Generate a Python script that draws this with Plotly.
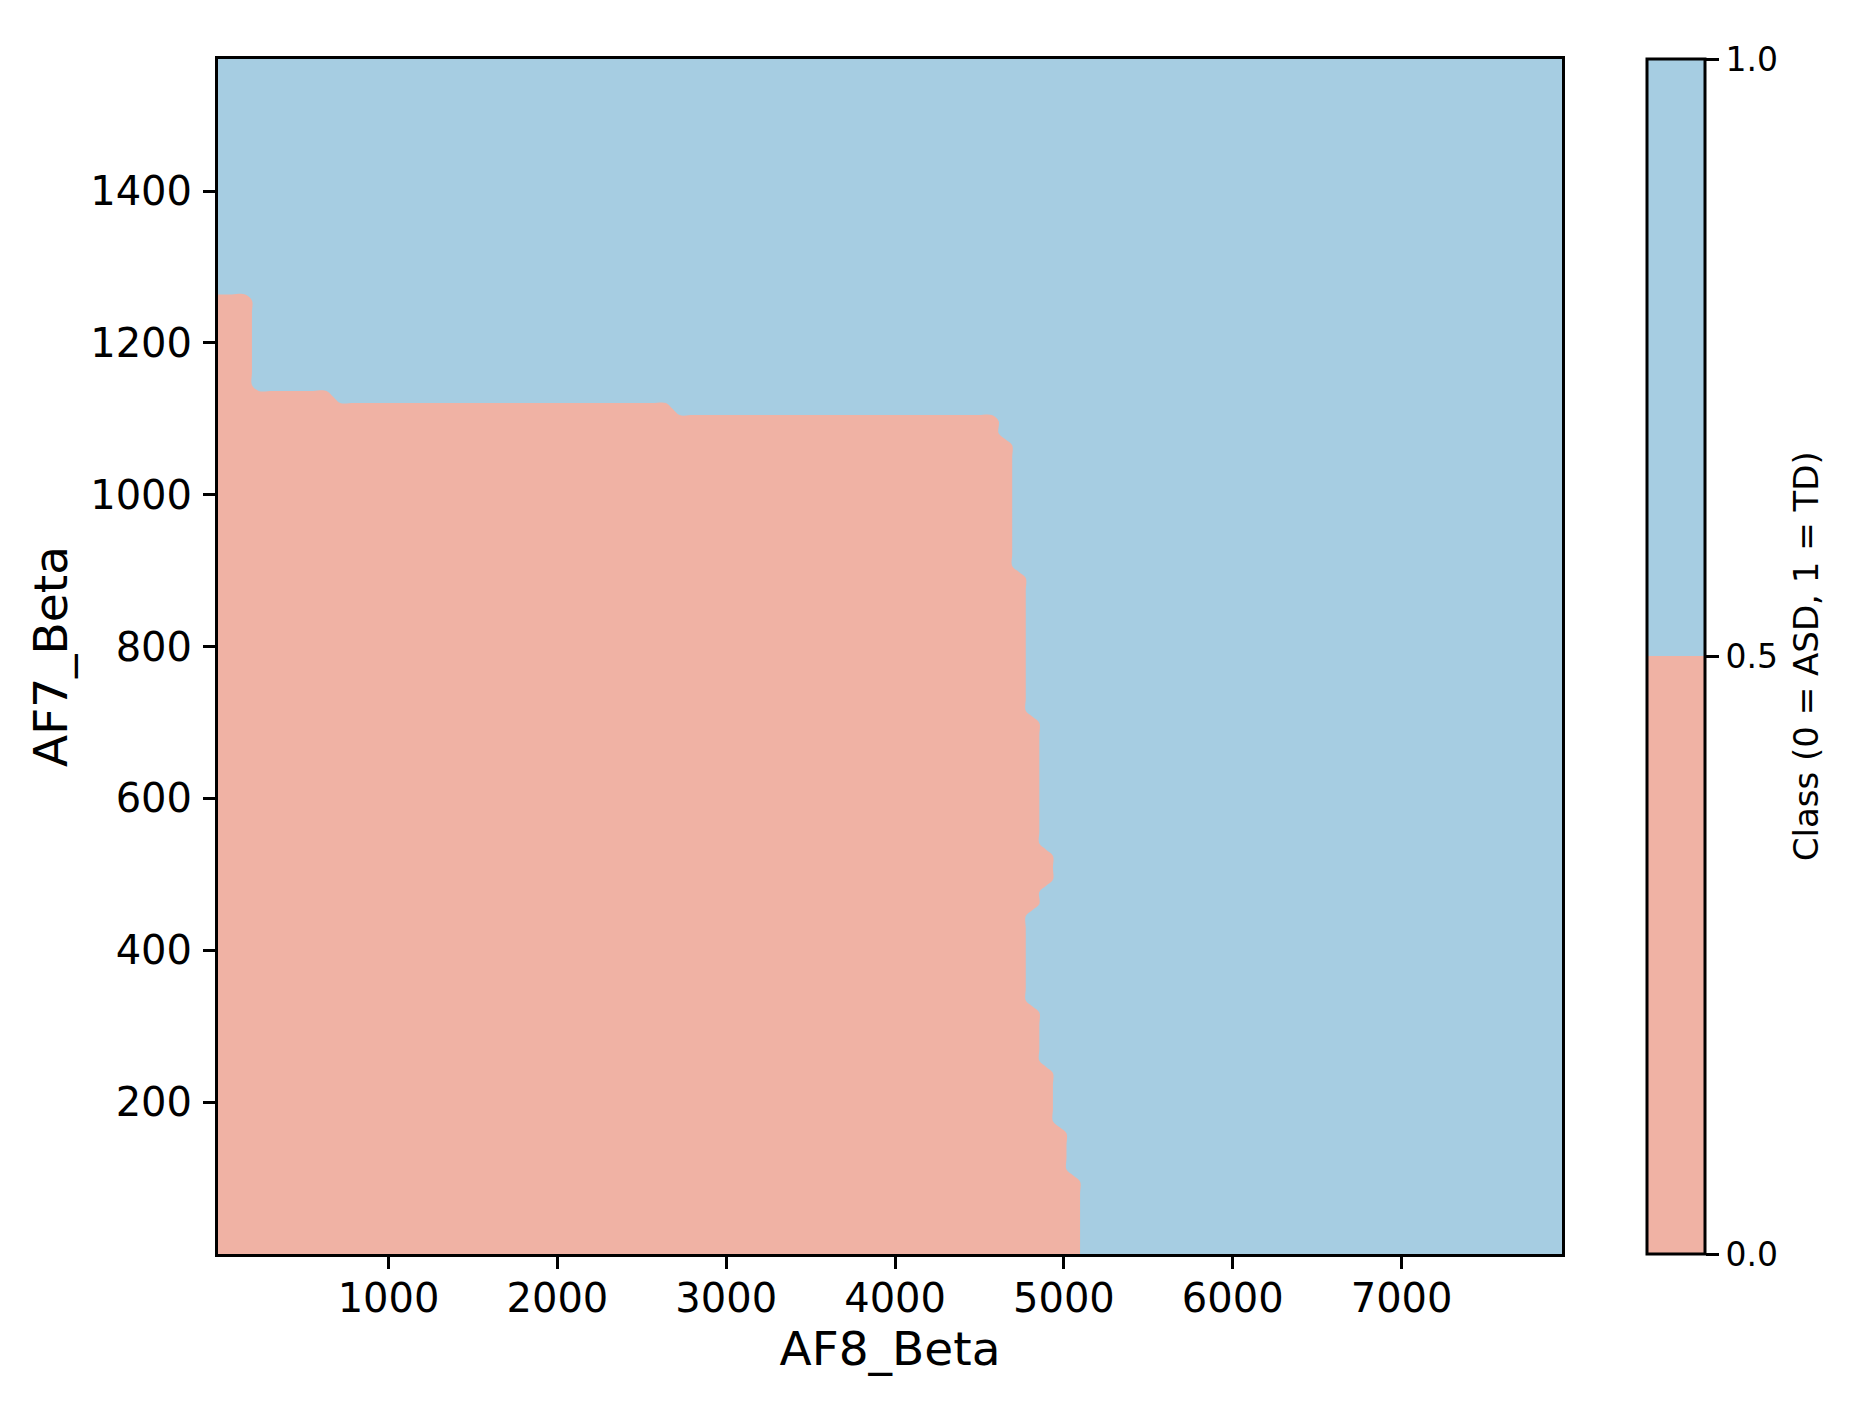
import numpy as np
import plotly.graph_objects as go

# ---------------- data ----------------
# evaluation grid extent (data units) and resolution
af8_range = [-10, 7950]
af7_range = [0, 1574]
n_grid = 100

# decision boundary:
# for each AF7_Beta band (upper edge), AF8_Beta value below which the class is 0 (ASD)
band_upper_af7 = [102.5, 166.6, 246.3, 326.4, 452.4, 484.3, 533.0, 708.0,
                  898.7, 1072.5, 1105.0, 1121.0, 1137.0, 1264.0]
band_thr_af8 = [5094, 5015, 4932, 4853, 4772, 4853, 4932, 4853,
                4772, 4693, 4613, 2683, 673, 191]

x_ticks = [1000, 2000, 3000, 4000, 5000, 6000, 7000]
y_ticks = [200, 400, 600, 800, 1000, 1200, 1400]
cbar_ticks = [0.0, 0.5, 1.0]
cbar_labels = ["0.0", "0.5", "1.0"]

salmon = "#f0b2a4"
blue = "#a6cde2"

# ---------------- build class grid ----------------
xs = np.linspace(af8_range[0], af8_range[1], n_grid)
ys = np.linspace(af7_range[0], af7_range[1], n_grid)
z = np.ones((n_grid, n_grid))
for i, yv in enumerate(ys):
    k = int(np.searchsorted(band_upper_af7, yv))
    if k < len(band_thr_af8):
        z[i, xs < band_thr_af8[k]] = 0

cscale = [[0, salmon], [0.5, salmon], [0.5, blue], [1, blue]]
FONT = "DejaVu Sans"

fig = go.Figure()
fig.add_trace(go.Contour(
    x=xs, y=ys, z=z,
    colorscale=cscale, zmin=0, zmax=1,
    autocontour=False,
    contours=dict(start=0.5, end=0.5, size=0.5, coloring="fill", showlines=False),
    line=dict(width=0),
    showscale=False,
    hoverinfo="skip",
))
# colorbar carrier
fig.add_trace(go.Scatter(
    x=[None], y=[None], mode="markers",
    marker=dict(
        color=[0, 1], cmin=0, cmax=1, colorscale=cscale, showscale=True,
        colorbar=dict(
            x=1.0632, xanchor="left", xpad=0,
            y=0.5, yanchor="middle", len=1, lenmode="fraction", ypad=0,
            thickness=58, thicknessmode="pixels",
            outlinewidth=3, outlinecolor="black",
            tickmode="array", tickvals=cbar_ticks, ticktext=cbar_labels,
            ticks="outside", ticklen=13, tickwidth=2.5, tickcolor="black",
            tickfont=dict(family=FONT, size=33, color="black"),
        ),
    ),
    showlegend=False, hoverinfo="skip",
))

axis_common = dict(
    showline=True, linewidth=3, linecolor="black", mirror=True,
    ticks="outside", ticklen=12, tickwidth=2.5, tickcolor="black",
    showgrid=False, zeroline=False,
    tickfont=dict(family=FONT, size=40, color="black"),
)
fig.update_xaxes(range=af8_range, tickmode="array", tickvals=x_ticks, ticklabelstandoff=-5,
                 title=dict(text="AF8_Beta", font=dict(family=FONT, size=47, color="black"), standoff=10),
                 **axis_common)
fig.update_yaxes(range=af7_range, tickmode="array", tickvals=y_ticks, ticklabelstandoff=3,
                 title=dict(text="AF7_Beta", font=dict(family=FONT, size=47, color="black"), standoff=8),
                 **axis_common)

fig.add_annotation(
    text="Class (0 = ASD, 1 = TD)", textangle=-90,
    xref="paper", yref="paper", x=1.1813, y=0.5,
    xanchor="center", yanchor="middle", showarrow=False,
    font=dict(family=FONT, size=34, color="black"),
)

fig.update_layout(
    width=1835, height=1390,
    margin=dict(l=210, r=281, t=51, b=144, autoexpand=False),
    paper_bgcolor="white", plot_bgcolor="white",
    font=dict(family=FONT, color="black"),
    showlegend=False,
)
fig.write_html("out.html")
